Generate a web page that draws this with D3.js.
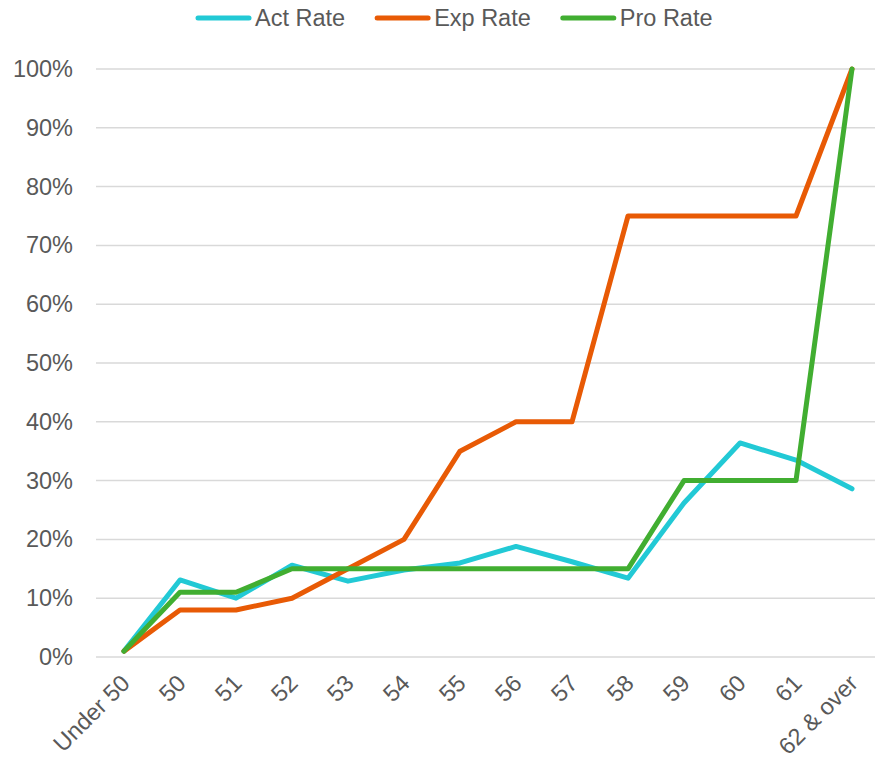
<!DOCTYPE html>
<html>
<head>
<meta charset="utf-8">
<script src="https://cdn.jsdelivr.net/npm/d3@7"></script>
<style>
  html, body { margin: 0; padding: 0; background: #fff; }
  svg { display: block; font-family: "Liberation Sans", Arial, sans-serif; }
</style>
</head>
<body>
<svg id="chart" width="875" height="759"></svg>
<script>
// Age bands along the x axis
const categories = ["Under 50", "50", "51", "52", "53", "54", "55", "56", "57", "58", "59", "60", "61", "62 & over"];

// Rates per age band (fractions)
const actRate = [0.01, 0.131, 0.10, 0.156, 0.129, 0.148, 0.16, 0.188, 0.162, 0.134, 0.262, 0.364, 0.335, 0.286];
const expRate = [0.01, 0.08, 0.08, 0.10, 0.15, 0.20, 0.35, 0.40, 0.40, 0.75, 0.75, 0.75, 0.75, 1.00];
const proRate = [0.01, 0.11, 0.11, 0.15, 0.15, 0.15, 0.15, 0.15, 0.15, 0.15, 0.30, 0.30, 0.30, 1.00];

const yTicks = [0, 0.1, 0.2, 0.3, 0.4, 0.5, 0.6, 0.7, 0.8, 0.9, 1.0];

const seriesNames = ["Act Rate", "Exp Rate", "Pro Rate"];
const seriesColors = ["#22C9D5", "#E85A05", "#41AE31"];
const seriesValues = [actRate, expRate, proRate];

const svg = d3.select("#chart");
const textColor = "#595959";
const fontSize = 23.5;

const x = d3.scalePoint().domain(categories).range([96, 880]).padding(0.5);
const y = d3.scaleLinear().domain([0, 1]).range([657, 69]);

// Horizontal gridlines
svg.append("g")
  .selectAll("line")
  .data(yTicks)
  .join("line")
  .attr("x1", 96)
  .attr("x2", 880)
  .attr("y1", d => y(d))
  .attr("y2", d => y(d))
  .attr("stroke", "#d9d9d9")
  .attr("stroke-width", 1.5);

// Y axis labels
const yAxis = d3.axisLeft(y).tickValues(yTicks).tickFormat(d3.format(".0%")).tickSize(0).tickPadding(0);
svg.append("g")
  .attr("transform", "translate(73,0)")
  .call(yAxis)
  .call(g => g.select(".domain").remove())
  .call(g => g.selectAll("text")
    .attr("fill", textColor)
    .attr("font-size", fontSize)
    .attr("font-family", "Liberation Sans, Arial, sans-serif"));

// X axis labels, rotated
const xAxis = d3.axisBottom(x).tickSize(0).tickPadding(0);
svg.append("g")
  .attr("transform", "translate(0,657)")
  .call(xAxis)
  .call(g => g.select(".domain").remove())
  .call(g => g.selectAll("text")
    .attr("fill", textColor)
    .attr("font-size", fontSize)
    .attr("font-family", "Liberation Sans, Arial, sans-serif")
    .attr("text-anchor", "end")
    .attr("dy", "0.35em")
    .attr("transform", "translate(1,22) rotate(-45)"));

// Series lines
const line = d3.line()
  .x((d, i) => x(categories[i]))
  .y(d => y(d));

svg.append("g")
  .selectAll("path")
  .data(seriesValues)
  .join("path")
  .attr("d", d => line(d))
  .attr("fill", "none")
  .attr("stroke", (d, i) => seriesColors[i])
  .attr("stroke-width", 5)
  .attr("stroke-linejoin", "round")
  .attr("stroke-linecap", "round");

// Legend
const legend = svg.append("g").attr("transform", "translate(0,18)");
let lx = 196;
seriesNames.forEach((name, i) => {
  legend.append("line")
    .attr("x1", lx + 2).attr("x2", lx + 53)
    .attr("y1", 0).attr("y2", 0)
    .attr("stroke", seriesColors[i])
    .attr("stroke-width", 5)
    .attr("stroke-linecap", "round");
  const t = legend.append("text")
    .attr("x", lx + 59)
    .attr("y", 0)
    .attr("dy", "0.35em")
    .attr("fill", textColor)
    .attr("font-size", fontSize)
    .text(name);
  lx += 59 + t.node().getComputedTextLength() + 30;
});
</script>
</body>
</html>
